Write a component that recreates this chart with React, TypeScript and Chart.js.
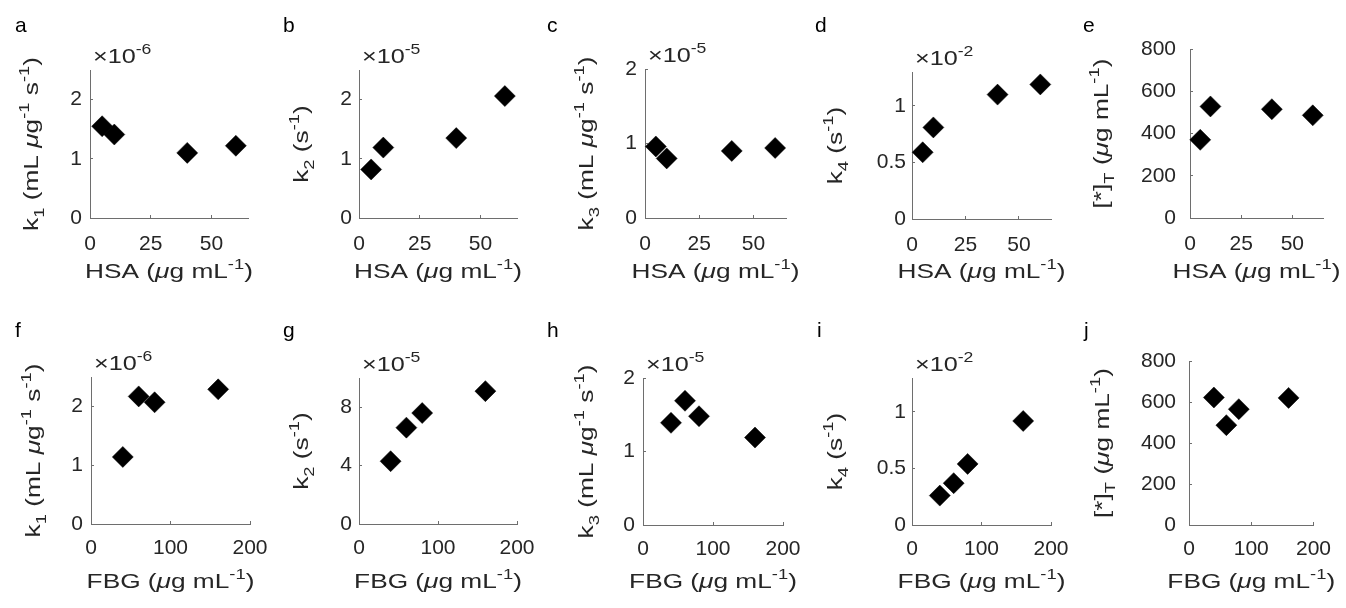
import React, { useEffect, useRef } from "react";
import { Chart, registerables } from "chart.js";

Chart.register(...registerables);

const W = 1346;
const H = 608;

// ---------- data ----------
const HSA = [5, 10, 40, 60];
const FBG = [40, 60, 80, 160];

const K1_HSA = [1.55, 1.41, 1.1, 1.22]; // x 1e-6
const K2_HSA = [0.82, 1.19, 1.35, 2.06]; // x 1e-5
const K3_HSA = [0.96, 0.8, 0.9, 0.94]; // x 1e-5
const K4_HSA = [0.59, 0.81, 1.1, 1.19]; // x 1e-2
const T_HSA = [370, 528, 515, 486];

const K1_FBG = [1.14, 2.17, 2.07, 2.29]; // x 1e-6
const K2_FBG = [4.3, 6.6, 7.6, 9.1]; // x 1e-5
const K3_FBG = [1.39, 1.69, 1.48, 1.19]; // x 1e-5
const K4_FBG = [0.26, 0.37, 0.54, 0.92]; // x 1e-2
const T_FBG = [622, 487, 565, 620];

const HSA_TICKS = [0, 25, 50];
const FBG_TICKS = [0, 100, 200];
const TICKS_012 = [0, 1, 2];
const TICKS_048 = [0, 4, 8];
const TICKS_K4 = [0, 0.5, 1];
const TICKS_T = [0, 200, 400, 600, 800];

const HSA_TITLE = "HSA (μg mL^{-1})";
const FBG_TITLE = "FBG (μg mL^{-1})";
const K1_TITLE = "k_{1} (mL μg^{-1} s^{-1})";
const K2_TITLE = "k_{2} (s^{-1})";
const K3_TITLE = "k_{3} (mL μg^{-1} s^{-1})";
const K4_TITLE = "k_{4} (s^{-1})";
const T_TITLE = "[*]_{T} (μg mL^{-1})";

// ---------- style ----------
const FONT = '"Liberation Sans", Arial, Helvetica, sans-serif';
const TEXT = "#262626";
const AXIS = "#6e6e6e";
const TICK_SIZE = 21;
const TITLE_SIZE = 21;
const TITLE_SX = 1.25;
const Y_BOX = 90;
const X_BOX = 45;

type PanelCfg = {
  letter: string;
  xs: number[];
  ys: number[];
  xMax: number;
  yMax: number;
  xTicks: number[];
  yTicks: number[];
  xTitle: string;
  yTitle: string;
  exponent: string | null;
  rect: [number, number, number, number];
  letterPos: [number, number];
  yTitleX: number;
  xTitleY: number;
  yLabelGap: number;
  xLabelPad: number;
};

const PANELS: PanelCfg[] = [
  { letter: "a", xs: HSA, ys: K1_HSA, xMax: 65, yMax: 2.5, xTicks: HSA_TICKS, yTicks: TICKS_012, xTitle: HSA_TITLE, yTitle: K1_TITLE, exponent: "-6", rect: [90, 70, 248, 218], letterPos: [15, 32], yTitleX: 38, xTitleY: 278, yLabelGap: 8, xLabelPad: 17 },
  { letter: "b", xs: HSA, ys: K2_HSA, xMax: 65, yMax: 2.5, xTicks: HSA_TICKS, yTicks: TICKS_012, xTitle: HSA_TITLE, yTitle: K2_TITLE, exponent: "-5", rect: [359, 70, 517, 218], letterPos: [283, 32], yTitleX: 308, xTitleY: 278, yLabelGap: 7, xLabelPad: 17 },
  { letter: "c", xs: HSA, ys: K3_HSA, xMax: 65, yMax: 2, xTicks: HSA_TICKS, yTicks: TICKS_012, xTitle: HSA_TITLE, yTitle: K3_TITLE, exponent: "-5", rect: [645, 69, 786, 218], letterPos: [547, 32], yTitleX: 593, xTitleY: 278, yLabelGap: 8, xLabelPad: 17 },
  { letter: "d", xs: HSA, ys: K4_HSA, xMax: 65, yMax: 1.3, xTicks: HSA_TICKS, yTicks: TICKS_K4, xTitle: HSA_TITLE, yTitle: K4_TITLE, exponent: "-2", rect: [912, 72, 1051, 219], letterPos: [815, 32], yTitleX: 842, xTitleY: 278, yLabelGap: 6, xLabelPad: 17 },
  { letter: "e", xs: HSA, ys: T_HSA, xMax: 65, yMax: 800, xTicks: HSA_TICKS, yTicks: TICKS_T, xTitle: HSA_TITLE, yTitle: T_TITLE, exponent: null, rect: [1190, 49, 1323, 218], letterPos: [1083, 32], yTitleX: 1108, xTitleY: 278, yLabelGap: 14, xLabelPad: 17 },
  { letter: "f", xs: FBG, ys: K1_FBG, xMax: 200, yMax: 2.5, xTicks: FBG_TICKS, yTicks: TICKS_012, xTitle: FBG_TITLE, yTitle: K1_TITLE, exponent: "-6", rect: [91, 377, 250, 524], letterPos: [15, 337], yTitleX: 40, xTitleY: 588, yLabelGap: 8, xLabelPad: 15 },
  { letter: "g", xs: FBG, ys: K2_FBG, xMax: 200, yMax: 10, xTicks: FBG_TICKS, yTicks: TICKS_048, xTitle: FBG_TITLE, yTitle: K2_TITLE, exponent: "-5", rect: [359, 378, 517, 524], letterPos: [283, 337], yTitleX: 308, xTitleY: 588, yLabelGap: 7, xLabelPad: 15 },
  { letter: "h", xs: FBG, ys: K3_FBG, xMax: 200, yMax: 2, xTicks: FBG_TICKS, yTicks: TICKS_012, xTitle: FBG_TITLE, yTitle: K3_TITLE, exponent: "-5", rect: [643, 378, 783, 525], letterPos: [547, 337], yTitleX: 593, xTitleY: 588, yLabelGap: 8, xLabelPad: 15 },
  { letter: "i", xs: FBG, ys: K4_FBG, xMax: 200, yMax: 1.3, xTicks: FBG_TICKS, yTicks: TICKS_K4, xTitle: FBG_TITLE, yTitle: K4_TITLE, exponent: "-2", rect: [912, 378, 1051, 525], letterPos: [817, 337], yTitleX: 842, xTitleY: 588, yLabelGap: 6, xLabelPad: 15 },
  { letter: "j", xs: FBG, ys: T_FBG, xMax: 200, yMax: 800, xTicks: FBG_TICKS, yTicks: TICKS_T, xTitle: FBG_TITLE, yTitle: T_TITLE, exponent: null, rect: [1189, 361, 1319, 525], letterPos: [1084, 337], yTitleX: 1109, xTitleY: 588, yLabelGap: 13, xLabelPad: 15 },
];

// ---------- rich text (TeX-like sub/superscripts) ----------
type Seg = { t: string; k: "n" | "sub" | "sup"; it?: boolean };

function parseRich(s: string): Seg[] {
  const out: Seg[] = [];
  let buf = "";
  const flush = () => {
    if (buf) {
      out.push({ t: buf, k: "n" });
      buf = "";
    }
  };
  let i = 0;
  while (i < s.length) {
    const c = s[i];
    if ((c === "_" || c === "^") && s[i + 1] === "{") {
      flush();
      const j = s.indexOf("}", i + 2);
      out.push({ t: s.slice(i + 2, j), k: c === "_" ? "sub" : "sup" });
      i = j + 1;
    } else if (c === "μ") {
      flush();
      out.push({ t: "μ", k: "n", it: true });
      i++;
    } else {
      buf += c;
      i++;
    }
  }
  flush();
  return out;
}

function segFont(seg: Seg, size: number) {
  const s = seg.k === "n" ? size : size * 0.7;
  return `${seg.it ? "italic " : ""}${s}px ${FONT}`;
}

function drawRich(
  ctx: CanvasRenderingContext2D,
  text: string,
  x: number,
  y: number,
  size: number,
  align: "left" | "center",
  sx: number
) {
  const segs = parseRich(text);
  let w = 0;
  for (const s of segs) {
    ctx.font = segFont(s, size);
    w += ctx.measureText(s.t).width;
  }
  ctx.save();
  ctx.translate(x, y);
  ctx.scale(sx, 1);
  let cx = align === "center" ? -w / 2 : 0;
  ctx.textAlign = "left";
  ctx.textBaseline = "alphabetic";
  for (const s of segs) {
    ctx.font = segFont(s, size);
    const dy = s.k === "sub" ? size * 0.3 : s.k === "sup" ? -size * 0.42 : 0;
    ctx.fillText(s.t, cx, dy);
    cx += ctx.measureText(s.t).width;
  }
  ctx.restore();
}

const panelTextPlugin = {
  id: "panelText",
  afterDraw(chart: any, _args: any, opts: any) {
    const p: PanelCfg = opts.cfg;
    if (!p) return;
    const ctx: CanvasRenderingContext2D = chart.ctx;
    const a = chart.chartArea;
    ctx.save();
    ctx.fillStyle = "#000";
    ctx.font = `${TITLE_SIZE}px ${FONT}`;
    ctx.textAlign = "left";
    ctx.textBaseline = "alphabetic";
    ctx.fillText(p.letter, p.letterPos[0], p.letterPos[1]);
    ctx.fillStyle = TEXT;
    drawRich(ctx, p.xTitle, (a.left + a.right) / 2, p.xTitleY, TITLE_SIZE, "center", TITLE_SX);
    ctx.save();
    ctx.translate(p.yTitleX, (a.top + a.bottom) / 2);
    ctx.rotate(-Math.PI / 2);
    drawRich(ctx, p.yTitle, 0, 0, TITLE_SIZE, "center", TITLE_SX);
    ctx.restore();
    if (p.exponent) {
      drawRich(ctx, "×10^{" + p.exponent + "}", a.left + 3, a.top - 7, TICK_SIZE, "left", 1.2);
    }
    ctx.restore();
  },
};

function buildConfig(p: PanelCfg): any {
  const [L, T, R, B] = p.rect;
  return {
    type: "scatter",
    data: {
      datasets: [
        {
          data: p.xs.map((x, i) => ({ x, y: p.ys[i] })),
          pointStyle: "rectRot",
          pointRadius: 10.5,
          pointHoverRadius: 10.5,
          backgroundColor: "#000",
          borderColor: "#000",
          borderWidth: 0.5,
          clip: false,
        },
      ],
    },
    options: {
      animation: false,
      responsive: false,
      events: [],
      layout: { padding: { left: L - Y_BOX, top: T, right: W - R, bottom: H - B - X_BOX } },
      plugins: {
        legend: { display: false },
        tooltip: { enabled: false },
        title: { display: false },
        panelText: { cfg: p },
      },
      scales: {
        x: {
          type: "linear",
          min: 0,
          max: p.xMax,
          afterFit: (s: any) => {
            s.height = X_BOX;
          },
          afterBuildTicks: (s: any) => {
            s.ticks = p.xTicks.map((v) => ({ value: v }));
          },
          ticks: {
            autoSkip: false,
            maxRotation: 0,
            color: TEXT,
            font: { family: FONT, size: TICK_SIZE },
            padding: p.xLabelPad,
            callback: (v: number) => String(v),
          },
          grid: { drawOnChartArea: false, drawTicks: true, tickLength: -3, color: AXIS, lineWidth: 1 },
          border: { display: true, color: AXIS, width: 1 },
        },
        y: {
          type: "linear",
          min: 0,
          max: p.yMax,
          afterFit: (s: any) => {
            s.width = Y_BOX;
          },
          afterBuildTicks: (s: any) => {
            s.ticks = p.yTicks.map((v) => ({ value: v }));
          },
          ticks: {
            autoSkip: false,
            color: TEXT,
            font: { family: FONT, size: TICK_SIZE },
            padding: p.yLabelGap + 3,
            callback: (v: number) => String(v),
          },
          grid: { drawOnChartArea: false, drawTicks: true, tickLength: -3, color: AXIS, lineWidth: 1 },
          border: { display: true, color: AXIS, width: 1 },
        },
      },
    },
    plugins: [panelTextPlugin],
  };
}

function Panel({ cfg }: { cfg: PanelCfg }) {
  const ref = useRef<HTMLCanvasElement>(null);
  useEffect(() => {
    const chart = new Chart(ref.current as HTMLCanvasElement, buildConfig(cfg));
    return () => chart.destroy();
  }, [cfg]);
  return (
    <canvas
      ref={ref}
      width={W}
      height={H}
      style={{ position: "absolute", left: 0, top: 0, width: W, height: H }}
    />
  );
}

export default function App() {
  useEffect(() => {
    document.body.style.margin = "0";
    document.body.style.background = "#fff";
  }, []);
  return (
    <div style={{ position: "relative", width: W, height: H, background: "#fff", overflow: "hidden" }}>
      {PANELS.map((p) => (
        <Panel key={p.letter} cfg={p} />
      ))}
    </div>
  );
}
